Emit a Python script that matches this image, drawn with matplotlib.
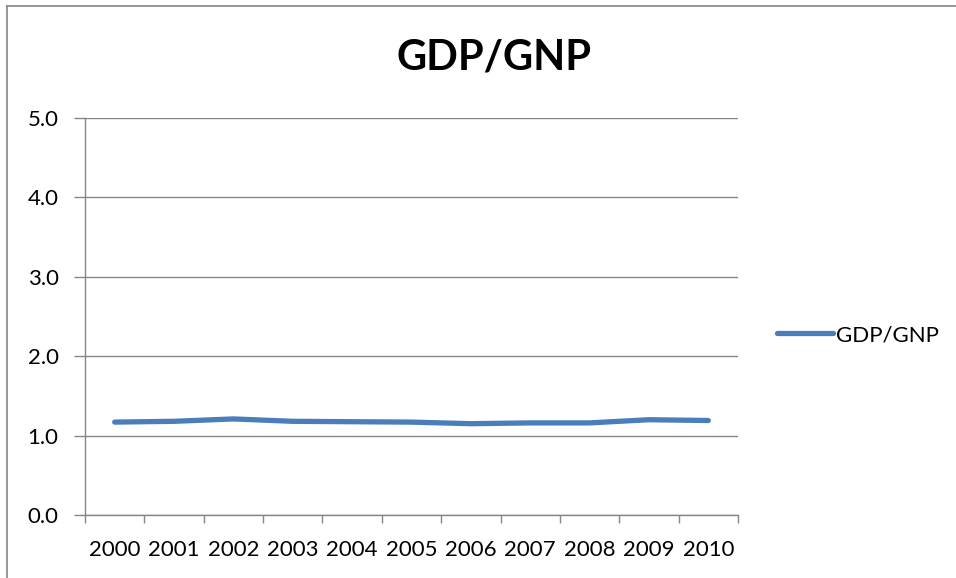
import matplotlib
matplotlib.use("Agg")
import matplotlib.pyplot as plt
import numpy as np

# GDP/GNP ratio by year
years = ["2000", "2001", "2002", "2003", "2004", "2005",
         "2006", "2007", "2008", "2009", "2010"]
ratio = [1.17, 1.18, 1.21, 1.18, 1.175, 1.17, 1.15, 1.16, 1.16, 1.20, 1.19]
y_ticks = [0.0, 1.0, 2.0, 3.0, 4.0, 5.0]

plt.rcParams['font.family'] = ['Lato', 'DejaVu Sans']
grid_col = '#868686'

fig = plt.figure(figsize=(9.56, 5.78), dpi=100, facecolor='w')
ax = fig.add_axes([85/956, 63/578, (738-85)/956, (515-118)/578])

x = np.arange(len(years))
line, = ax.plot(x, ratio, color='#4A7EBB', lw=3.8, solid_capstyle='round',
                label='GDP/GNP', zorder=3)

ax.set_xlim(-0.5, len(years) - 0.5)
ax.set_ylim(0, 5)
ax.set_yticks(y_ticks)
ax.set_yticklabels(["%.1f" % v for v in y_ticks])
ax.yaxis.grid(True, color=grid_col, lw=1)
ax.set_axisbelow(True)

# category labels centered, tick marks on category boundaries
ax.set_xticks(x)
ax.set_xticklabels(years)
ax.set_xticks(np.arange(len(years) + 1) - 0.5, minor=True)
ax.tick_params(axis='x', which='major', length=0, pad=18, labelsize=16)
ax.tick_params(axis='x', which='minor', length=6, color=grid_col, width=1)
ax.tick_params(axis='y', length=8, color=grid_col, width=1, pad=11, labelsize=16)

for s in ['top', 'right']:
    ax.spines[s].set_visible(False)
for s in ['left', 'bottom']:
    ax.spines[s].set_color(grid_col)
    ax.spines[s].set_linewidth(1)

fig.text(494/956, 1 - 58/578, "GDP/GNP", ha='center', va='center',
         fontsize=30, fontweight='bold')

fig.legend(handles=[line], loc='center left', bbox_to_anchor=(777/956, 1 - 335/578),
           frameon=False, fontsize=16, handlelength=2.5, handletextpad=0.15,
           borderpad=0, borderaxespad=0)

# chart outline
fig.add_artist(plt.Line2D([7/956, 7/956], [0, 1 - 6/578], color=grid_col, lw=1.2))
fig.add_artist(plt.Line2D([7/956, 1], [1 - 6/578, 1 - 6/578], color=grid_col, lw=1.2))

fig.savefig("out.png", dpi=100)
